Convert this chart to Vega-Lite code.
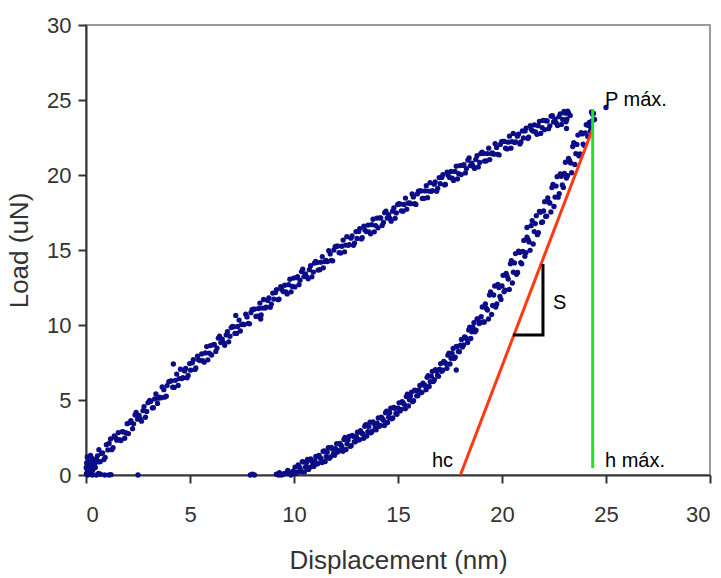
{
  "$schema": "https://vega.github.io/schema/vega-lite/v6.json",
  "width": 624,
  "height": 450,
  "autosize": {"type": "none"},
  "padding": {"left": 86, "top": 25, "right": 11, "bottom": 103},
  "background": "white",
  "config": {
    "view": {"stroke": "#9a9a9a", "strokeWidth": 2},
    "axis": {
      "grid": false,
      "domainColor": "#333333",
      "domainWidth": 2,
      "tickColor": "#333333",
      "tickWidth": 2,
      "tickSize": 8,
      "labelFont": "Liberation Sans",
      "labelFontSize": 22,
      "labelColor": "#333333",
      "titleFont": "Liberation Sans",
      "titleFontSize": 26,
      "titleFontWeight": "normal",
      "titleColor": "#333333"
    }
  },
  "layer": [
    {
      "data": {"values": [
        {"h":0.02,"P":0.1},{"h":0.05,"P":0.4},{"h":0.08,"P":0.0},{"h":0.1,"P":0.6},{"h":0.12,"P":0.2},{"h":0.15,"P":0.9},{"h":0.18,"P":0.3},{"h":0.2,"P":0.5},{"h":0.25,"P":0.8},{"h":0.28,"P":0.2},{"h":0.3,"P":1.1},{"h":0.35,"P":0.6},{"h":0.4,"P":1.0},{"h":0.45,"P":0.5},{"h":0.03,"P":0.8},{"h":0.22,"P":1.3},
        {"h":0.06,"P":1.2},{"h":0.14,"P":0.05},{"h":0.33,"P":0.35},{"h":0.42,"P":0.75},{"h":0.5,"P":1.05},{"h":0.01,"P":0.5},
        {"h":0.3,"P":0.0},{"h":0.5,"P":0.0},{"h":0.7,"P":0.05},{"h":0.9,"P":0.0},{"h":1.1,"P":0.0},{"h":1.2,"P":0.02},{"h":2.5,"P":0.0},{"h":0.6,"P":0.1},
        {"h":0.55,"P":1.28},{"h":0.68,"P":0.89},{"h":0.8,"P":1.48},{"h":0.92,"P":1.17},{"h":0.62,"P":1.69},
        {"h":1.05,"P":1.67},{"h":1.18,"P":2.40},{"h":1.3,"P":1.82},{"h":1.42,"P":2.49},
        {"h":1.55,"P":2.82},{"h":1.68,"P":2.30},{"h":1.8,"P":2.87},{"h":1.93,"P":2.80},
        {"h":2.04,"P":2.76},{"h":2.16,"P":3.62},{"h":2.29,"P":3.41},{"h":2.41,"P":4.17},
        {"h":2.55,"P":3.97},{"h":2.67,"P":3.59},{"h":2.79,"P":4.56},{"h":2.92,"P":4.24},
        {"h":3.06,"P":4.98},{"h":3.19,"P":4.47},{"h":3.3,"P":5.07},{"h":3.44,"P":4.77},
        {"h":3.53,"P":5.19},{"h":3.66,"P":5.87},{"h":3.78,"P":5.19},{"h":3.9,"P":5.96},
        {"h":4.05,"P":6.26},{"h":4.17,"P":5.85},{"h":4.3,"P":6.31},{"h":4.43,"P":5.97},{"h":4.2,"P":7.4},
        {"h":4.54,"P":7.05},{"h":4.66,"P":6.49},{"h":4.79,"P":7.10},{"h":4.91,"P":6.64},
        {"h":5.03,"P":6.99},{"h":5.16,"P":7.69},{"h":5.28,"P":7.14},{"h":5.41,"P":7.69},
        {"h":5.56,"P":8.07},{"h":5.68,"P":7.52},{"h":5.8,"P":8.56},{"h":5.93,"P":8.12},
        {"h":6.04,"P":8.00},{"h":6.17,"P":8.70},{"h":6.3,"P":8.46},{"h":6.42,"P":9.25},
        {"h":6.55,"P":9.06},{"h":6.67,"P":8.65},{"h":6.8,"P":9.56},{"h":6.92,"P":9.25},
        {"h":7.04,"P":9.90},{"h":7.16,"P":9.44},{"h":7.29,"P":9.90},{"h":7.42,"P":9.60},{"h":7.2,"P":10.64},
        {"h":7.55,"P":10.06},{"h":7.68,"P":10.72},{"h":7.8,"P":10.11},{"h":7.93,"P":10.82},
        {"h":8.05,"P":11.05},{"h":8.17,"P":10.57},{"h":8.3,"P":11.10},{"h":8.42,"P":10.67},
        {"h":8.54,"P":11.70},{"h":8.66,"P":11.19},{"h":8.79,"P":11.80},{"h":8.91,"P":11.39},{"h":8.4,"P":10.4},
        {"h":9.03,"P":11.73},{"h":9.16,"P":12.36},{"h":9.28,"P":11.73},{"h":9.41,"P":12.36},
        {"h":9.55,"P":12.65},{"h":9.67,"P":12.07},{"h":9.8,"P":13.05},{"h":9.92,"P":12.57},
        {"h":10.04,"P":12.54},{"h":10.17,"P":13.22},{"h":10.29,"P":12.99},{"h":10.42,"P":13.72},
        {"h":10.55,"P":13.40},{"h":10.68,"P":13.08},{"h":10.8,"P":13.95},{"h":10.93,"P":13.53},
        {"h":11.04,"P":14.24},{"h":11.16,"P":13.66},{"h":11.29,"P":14.19},{"h":11.41,"P":13.81},
        {"h":11.54,"P":14.30},{"h":11.67,"P":14.95},{"h":11.79,"P":14.30},{"h":11.92,"P":15.00},
        {"h":12.05,"P":15.25},{"h":12.17,"P":14.82},{"h":12.3,"P":15.25},{"h":12.43,"P":14.88},
        {"h":12.54,"P":15.89},{"h":12.66,"P":15.36},{"h":12.79,"P":15.94},{"h":12.91,"P":15.46},
        {"h":13.03,"P":15.77},{"h":13.16,"P":16.43},{"h":13.28,"P":15.82},{"h":13.41,"P":16.33},
        {"h":13.56,"P":16.66},{"h":13.68,"P":16.08},{"h":13.8,"P":17.05},{"h":13.93,"P":16.63},
        {"h":14.04,"P":16.48},{"h":14.17,"P":17.14},{"h":14.3,"P":16.84},{"h":14.42,"P":17.59},
        {"h":14.55,"P":17.35},{"h":14.67,"P":16.92},{"h":14.8,"P":17.80},{"h":14.92,"P":17.47},
        {"h":15.04,"P":18.09},{"h":15.16,"P":17.61},{"h":15.29,"P":18.04},{"h":15.42,"P":17.72},
        {"h":15.55,"P":18.14},{"h":15.68,"P":18.74},{"h":15.8,"P":18.09},{"h":15.93,"P":18.74},
        {"h":16.05,"P":18.94},{"h":16.17,"P":18.44},{"h":16.3,"P":18.94},{"h":16.42,"P":18.49},
        {"h":16.54,"P":19.49},{"h":16.66,"P":18.96},{"h":16.79,"P":19.54},{"h":16.91,"P":19.11},
        {"h":17.03,"P":19.42},{"h":17.16,"P":20.03},{"h":17.28,"P":19.37},{"h":17.41,"P":19.98},
        {"h":17.55,"P":20.24},{"h":17.67,"P":19.64},{"h":17.8,"P":20.59},{"h":17.92,"P":20.09},
        {"h":18.04,"P":20.03},{"h":18.17,"P":20.69},{"h":18.29,"P":20.43},{"h":18.42,"P":21.14},
        {"h":18.55,"P":20.79},{"h":18.68,"P":20.44},{"h":18.8,"P":21.29},{"h":18.93,"P":20.84},
        {"h":19.04,"P":21.53},{"h":19.16,"P":20.93},{"h":19.29,"P":21.43},{"h":19.41,"P":21.03},
        {"h":19.54,"P":21.48},{"h":19.67,"P":22.09},{"h":19.79,"P":21.38},{"h":19.92,"P":22.04},
        {"h":20.05,"P":22.24},{"h":20.17,"P":21.79},{"h":20.3,"P":22.19},{"h":20.43,"P":21.79},
        {"h":20.54,"P":22.77},{"h":20.66,"P":22.20},{"h":20.79,"P":22.72},{"h":20.91,"P":22.20},
        {"h":21.03,"P":22.47},{"h":21.16,"P":23.13},{"h":21.28,"P":22.52},{"h":21.41,"P":23.03},
        {"h":21.56,"P":23.34},{"h":21.68,"P":22.71},{"h":21.8,"P":23.58},{"h":21.93,"P":23.16},
        {"h":22.04,"P":23.02},{"h":22.17,"P":23.60},{"h":22.3,"P":23.28},{"h":22.42,"P":23.95},
        {"h":22.55,"P":23.73},{"h":22.67,"P":23.30},{"h":22.8,"P":24.08},{"h":22.92,"P":23.70},
        {"h":23.04,"P":24.12},{"h":23.12,"P":23.72},{"h":23.2,"P":24.12},{"h":23.28,"P":23.97},{"h":23.1,"P":23.1},
        {"h":0.61,"P":0.88},{"h":0.74,"P":1.43},{"h":0.86,"P":1.03},{"h":0.98,"P":2.02},
        {"h":1.11,"P":2.10},{"h":1.24,"P":1.69},{"h":1.36,"P":2.60},{"h":1.48,"P":2.32},
        {"h":1.61,"P":2.35},{"h":1.74,"P":2.89},{"h":1.86,"P":2.45},{"h":1.98,"P":3.42},
        {"h":2.11,"P":3.50},{"h":2.24,"P":3.09},{"h":2.36,"P":4.00},{"h":2.48,"P":3.72},
        {"h":2.61,"P":3.75},{"h":2.74,"P":4.29},{"h":2.86,"P":3.85},{"h":2.98,"P":4.82},
        {"h":3.11,"P":4.90},{"h":3.24,"P":4.49},{"h":3.36,"P":5.40},{"h":3.48,"P":5.12},
        {"h":3.61,"P":5.15},{"h":3.74,"P":5.69},{"h":3.86,"P":5.25},{"h":3.98,"P":6.22},
        {"h":4.11,"P":6.28},{"h":4.24,"P":5.84},{"h":4.36,"P":6.73},{"h":4.48,"P":6.43},
        {"h":4.61,"P":6.43},{"h":4.74,"P":6.94},{"h":4.86,"P":6.48},{"h":4.98,"P":7.43},
        {"h":5.11,"P":7.48},{"h":5.24,"P":7.04},{"h":5.36,"P":7.93},{"h":5.48,"P":7.63},
        {"h":5.61,"P":7.63},{"h":5.74,"P":8.14},{"h":5.86,"P":7.68},{"h":5.98,"P":8.63},
        {"h":6.11,"P":8.68},{"h":6.24,"P":8.24},{"h":6.36,"P":9.13},{"h":6.48,"P":8.83},
        {"h":6.61,"P":8.83},{"h":6.74,"P":9.34},{"h":6.86,"P":8.88},{"h":6.98,"P":9.83},
        {"h":7.11,"P":9.88},{"h":7.24,"P":9.44},{"h":7.36,"P":10.33},{"h":7.48,"P":10.03},
        {"h":7.61,"P":10.03},{"h":7.74,"P":10.54},{"h":7.86,"P":10.08},{"h":7.98,"P":11.03},
        {"h":8.11,"P":11.06},{"h":8.24,"P":10.59},{"h":8.36,"P":11.46},{"h":8.48,"P":11.13},
        {"h":8.61,"P":11.13},{"h":8.74,"P":11.64},{"h":8.86,"P":11.18},{"h":8.98,"P":12.13},
        {"h":9.11,"P":12.16},{"h":9.24,"P":11.69},{"h":9.36,"P":12.56},{"h":9.48,"P":12.23},
        {"h":9.61,"P":12.21},{"h":9.74,"P":12.69},{"h":9.86,"P":12.21},{"h":9.98,"P":13.13},
        {"h":10.11,"P":13.16},{"h":10.24,"P":12.69},{"h":10.36,"P":13.56},{"h":10.48,"P":13.23},
        {"h":10.61,"P":13.21},{"h":10.74,"P":13.69},{"h":10.86,"P":13.21},{"h":10.98,"P":14.13},
        {"h":11.11,"P":14.16},{"h":11.24,"P":13.69},{"h":11.36,"P":14.56},{"h":11.48,"P":14.23},
        {"h":11.61,"P":14.23},{"h":11.74,"P":14.74},{"h":11.86,"P":14.28},{"h":11.98,"P":15.23},
        {"h":12.11,"P":15.26},{"h":12.24,"P":14.79},{"h":12.36,"P":15.66},{"h":12.48,"P":15.33},
        {"h":12.61,"P":15.31},{"h":12.74,"P":15.79},{"h":12.86,"P":15.31},{"h":12.98,"P":16.23},
        {"h":13.11,"P":16.24},{"h":13.24,"P":15.74},{"h":13.36,"P":16.59},{"h":13.48,"P":16.23},
        {"h":13.61,"P":16.21},{"h":13.74,"P":16.69},{"h":13.86,"P":16.21},{"h":13.98,"P":17.13},
        {"h":14.11,"P":17.14},{"h":14.24,"P":16.64},{"h":14.36,"P":17.49},{"h":14.48,"P":17.13},
        {"h":14.61,"P":17.11},{"h":14.74,"P":17.59},{"h":14.86,"P":17.11},{"h":14.98,"P":18.03},
        {"h":15.11,"P":18.06},{"h":15.24,"P":17.59},{"h":15.36,"P":18.46},{"h":15.48,"P":18.13},
        {"h":15.61,"P":18.09},{"h":15.74,"P":18.54},{"h":15.86,"P":18.04},{"h":15.98,"P":18.93},
        {"h":16.11,"P":18.94},{"h":16.24,"P":18.44},{"h":16.36,"P":19.29},{"h":16.48,"P":18.93},
        {"h":16.61,"P":18.91},{"h":16.74,"P":19.39},{"h":16.86,"P":18.91},{"h":16.98,"P":19.83},
        {"h":17.11,"P":19.84},{"h":17.24,"P":19.34},{"h":17.36,"P":20.19},{"h":17.48,"P":19.83},
        {"h":17.61,"P":19.79},{"h":17.74,"P":20.24},{"h":17.86,"P":19.74},{"h":17.98,"P":20.63},
        {"h":18.11,"P":20.64},{"h":18.24,"P":20.14},{"h":18.36,"P":20.99},{"h":18.48,"P":20.63},
        {"h":18.61,"P":20.59},{"h":18.74,"P":21.04},{"h":18.86,"P":20.54},{"h":18.98,"P":21.43},
        {"h":19.11,"P":21.44},{"h":19.24,"P":20.94},{"h":19.36,"P":21.79},{"h":19.48,"P":21.43},
        {"h":19.61,"P":21.39},{"h":19.74,"P":21.84},{"h":19.86,"P":21.34},{"h":19.98,"P":22.23},
        {"h":20.11,"P":22.24},{"h":20.24,"P":21.74},{"h":20.36,"P":22.59},{"h":20.48,"P":22.23},
        {"h":20.61,"P":22.17},{"h":20.74,"P":22.59},{"h":20.86,"P":22.07},{"h":20.98,"P":22.94},
        {"h":21.11,"P":22.94},{"h":21.24,"P":22.44},{"h":21.36,"P":23.29},{"h":21.48,"P":22.93},
        {"h":21.61,"P":22.87},{"h":21.74,"P":23.29},{"h":21.86,"P":22.77},{"h":21.98,"P":23.64},
        {"h":22.11,"P":23.62},{"h":22.24,"P":23.09},{"h":22.36,"P":23.92},{"h":22.48,"P":23.54},
        {"h":22.61,"P":23.47},{"h":22.74,"P":23.89},{"h":22.86,"P":23.37},{"h":22.98,"P":24.24},
        {"h":23.16,"P":24.25},{"h":23.08,"P":23.55},
        {"h":7.9,"P":0.0},{"h":8.0,"P":0.05},{"h":8.1,"P":0.0},
        {"h":9.15,"P":0.05},{"h":9.3,"P":0.15},{"h":9.4,"P":0.0},{"h":9.55,"P":0.1},{"h":9.7,"P":0.3},{"h":9.85,"P":0.0},{"h":9.95,"P":0.25},
        {"h":9.25,"P":0.0},{"h":9.5,"P":0.05},{"h":9.65,"P":0.1},{"h":9.8,"P":0.15},{"h":10.0,"P":0.1},
        {"h":10.05,"P":0.53},{"h":10.15,"P":0.19},{"h":10.25,"P":0.55},{"h":10.35,"P":0.21},{"h":10.45,"P":0.87},
        {"h":10.55,"P":0.53},{"h":10.65,"P":1.04},{"h":10.75,"P":0.50},{"h":10.85,"P":0.91},{"h":10.95,"P":0.57},
        {"h":11.05,"P":1.24},{"h":11.15,"P":0.77},{"h":11.25,"P":1.15},{"h":11.35,"P":0.83},{"h":11.45,"P":1.61},
        {"h":11.55,"P":1.24},{"h":11.65,"P":1.82},{"h":11.75,"P":1.20},{"h":11.85,"P":1.73},{"h":11.95,"P":1.31},
        {"h":12.05,"P":2.09},{"h":12.15,"P":1.62},{"h":12.25,"P":2.00},{"h":12.35,"P":1.58},{"h":12.45,"P":2.51},
        {"h":12.55,"P":2.09},{"h":12.65,"P":2.57},{"h":12.75,"P":1.95},{"h":12.85,"P":2.58},{"h":12.95,"P":2.21},
        {"h":13.05,"P":2.85},{"h":13.15,"P":2.35},{"h":13.25,"P":2.80},{"h":13.35,"P":2.45},{"h":13.45,"P":3.35},
        {"h":13.55,"P":2.89},{"h":13.65,"P":3.52},{"h":13.75,"P":2.90},{"h":13.85,"P":3.43},{"h":13.95,"P":3.01},
        {"h":14.05,"P":3.80},{"h":14.15,"P":3.30},{"h":14.25,"P":3.75},{"h":14.35,"P":3.30},{"h":14.45,"P":4.25},
        {"h":14.55,"P":3.85},{"h":14.65,"P":4.45},{"h":14.75,"P":3.80},{"h":14.85,"P":4.45},{"h":14.95,"P":4.05},
        {"h":15.05,"P":4.81},{"h":15.15,"P":4.38},{"h":15.25,"P":4.80},{"h":15.35,"P":4.42},{"h":15.45,"P":5.39},
        {"h":15.55,"P":5.01},{"h":15.65,"P":5.53},{"h":15.75,"P":4.95},{"h":15.85,"P":5.62},{"h":15.95,"P":5.29},
        {"h":16.05,"P":5.97},{"h":16.15,"P":5.51},{"h":16.25,"P":6.00},{"h":16.35,"P":5.69},{"h":16.45,"P":6.63},
        {"h":16.55,"P":6.22},{"h":16.65,"P":6.91},{"h":16.75,"P":6.35},{"h":16.85,"P":6.94},{"h":16.95,"P":6.58},
        {"h":17.05,"P":7.43},{"h":17.15,"P":6.99},{"h":17.25,"P":7.50},{"h":17.35,"P":7.11},{"h":17.45,"P":8.12},
        {"h":17.55,"P":7.78},{"h":17.65,"P":8.44},{"h":17.75,"P":7.85},{"h":17.85,"P":8.56},{"h":17.95,"P":8.22},{"h":17.8,"P":7.0},
        {"h":18.05,"P":9.04},{"h":18.15,"P":8.67},{"h":18.25,"P":9.15},{"h":18.35,"P":8.83},{"h":18.45,"P":9.86},
        {"h":18.55,"P":9.55},{"h":18.65,"P":10.15},{"h":18.75,"P":9.65},{"h":18.85,"P":10.40},{"h":18.95,"P":10.15},
        {"h":19.05,"P":11.2},{"h":19.15,"P":10.2},{"h":19.25,"P":11.1},{"h":19.35,"P":10.4},{"h":19.45,"P":12.2},
        {"h":19.55,"P":11.3},{"h":19.65,"P":12.6},{"h":19.75,"P":11.4},{"h":19.85,"P":12.5},{"h":19.95,"P":11.7},
        {"h":20.05,"P":13.31},{"h":20.15,"P":12.33},{"h":20.25,"P":13.25},{"h":20.35,"P":12.37},{"h":20.45,"P":14.29},
        {"h":20.55,"P":13.52},{"h":20.65,"P":14.76},{"h":20.75,"P":13.50},{"h":20.85,"P":14.84},{"h":20.95,"P":14.08},
        {"h":21.05,"P":15.64},{"h":21.15,"P":14.82},{"h":21.25,"P":15.70},{"h":21.35,"P":14.98},{"h":21.45,"P":16.96},{"h":21.2,"P":16.5},
        {"h":21.55,"P":16.23},{"h":21.65,"P":17.29},{"h":21.75,"P":16.15},{"h":21.85,"P":17.51},{"h":21.95,"P":16.87},
        {"h":22.05,"P":18.22},{"h":22.15,"P":17.26},{"h":22.25,"P":18.20},{"h":22.35,"P":17.54},{"h":22.45,"P":19.38},
        {"h":22.55,"P":18.53},{"h":22.65,"P":19.89},{"h":22.75,"P":18.75},{"h":22.85,"P":19.91},{"h":22.95,"P":19.17},
        {"h":23.05,"P":20.85},{"h":23.15,"P":19.95},{"h":23.25,"P":20.95},{"h":23.35,"P":20.15},{"h":23.45,"P":22.15},
        {"h":23.55,"P":21.42},{"h":23.65,"P":22.66},{"h":23.75,"P":21.40},{"h":23.85,"P":22.74},{"h":23.95,"P":21.98},
        {"h":24.05,"P":23.35},{"h":24.12,"P":22.56},{"h":24.2,"P":23.5},{"h":24.28,"P":23.14},{"h":24.35,"P":24.05},
        {"h":24.4,"P":24.1},{"h":24.3,"P":24.2},{"h":25.0,"P":24.5},{"h":24.45,"P":23.7},
        {"h":10.1,"P":0.11},{"h":10.2,"P":0.67},{"h":10.3,"P":0.43},{"h":10.4,"P":0.89},{"h":10.5,"P":0.2},
        {"h":10.6,"P":0.81},{"h":10.7,"P":0.37},{"h":10.8,"P":1.08},{"h":10.9,"P":0.64},{"h":11.0,"P":0.95},
        {"h":11.1,"P":0.73},{"h":11.2,"P":1.31},{"h":11.3,"P":1.09},{"h":11.4,"P":1.57},{"h":11.5,"P":0.9},
        {"h":11.6,"P":1.53},{"h":11.7,"P":1.11},{"h":11.8,"P":1.84},{"h":11.9,"P":1.42},{"h":12.0,"P":1.75},
        {"h":12.1,"P":1.53},{"h":12.2,"P":2.11},{"h":12.3,"P":1.89},{"h":12.4,"P":2.37},{"h":12.5,"P":1.7},
        {"h":12.6,"P":2.33},{"h":12.7,"P":1.91},{"h":12.8,"P":2.64},{"h":12.9,"P":2.22},{"h":13.0,"P":2.55},
        {"h":13.1,"P":2.35},{"h":13.2,"P":2.95},{"h":13.3,"P":2.75},{"h":13.4,"P":3.25},{"h":13.5,"P":2.6},
        {"h":13.6,"P":3.23},{"h":13.7,"P":2.81},{"h":13.8,"P":3.54},{"h":13.9,"P":3.12},{"h":14.0,"P":3.45},
        {"h":14.1,"P":3.25},{"h":14.2,"P":3.85},{"h":14.3,"P":3.65},{"h":14.4,"P":4.15},{"h":14.5,"P":3.5},
        {"h":14.6,"P":4.15},{"h":14.7,"P":3.75},{"h":14.8,"P":4.5},{"h":14.9,"P":4.1},{"h":15.0,"P":4.45},
        {"h":15.1,"P":4.27},{"h":15.2,"P":4.89},{"h":15.3,"P":4.71},{"h":15.4,"P":5.23},{"h":15.5,"P":4.6},
        {"h":15.6,"P":5.27},{"h":15.7,"P":4.89},{"h":15.8,"P":5.66},{"h":15.9,"P":5.28},{"h":16.0,"P":5.65},
        {"h":16.1,"P":5.49},{"h":16.2,"P":6.13},{"h":16.3,"P":5.97},{"h":16.4,"P":6.51},{"h":16.5,"P":5.9},
        {"h":16.6,"P":6.59},{"h":16.7,"P":6.23},{"h":16.8,"P":7.02},{"h":16.9,"P":6.66},{"h":17.0,"P":7.05},
        {"h":17.1,"P":6.91},{"h":17.2,"P":7.57},{"h":17.3,"P":7.43},{"h":17.4,"P":7.99},{"h":17.5,"P":7.4},
        {"h":17.6,"P":8.11},{"h":17.7,"P":7.77},{"h":17.8,"P":8.58},{"h":17.9,"P":8.24},{"h":18.0,"P":8.65},
        {"h":18.1,"P":8.53},{"h":18.2,"P":9.21},{"h":18.3,"P":9.09},{"h":18.4,"P":9.67},{"h":18.5,"P":9.1},
        {"h":18.6,"P":9.85},{"h":18.7,"P":9.55},{"h":18.8,"P":10.4},{"h":18.9,"P":10.1},{"h":19.0,"P":10.55},
        {"h":19.1,"P":10.2},{"h":19.2,"P":11.4},{"h":19.3,"P":11.0},{"h":19.4,"P":12.0},{"h":19.5,"P":10.7},
        {"h":19.6,"P":12.0},{"h":19.7,"P":11.2},{"h":19.8,"P":12.7},{"h":19.9,"P":11.9},{"h":20.0,"P":12.6},
        {"h":20.1,"P":12.22},{"h":20.2,"P":13.44},{"h":20.3,"P":13.06},{"h":20.4,"P":14.08},{"h":20.5,"P":12.8},
        {"h":20.6,"P":14.14},{"h":20.7,"P":13.38},{"h":20.8,"P":14.92},{"h":20.9,"P":14.16},{"h":21.0,"P":14.9},
        {"h":21.1,"P":14.58},{"h":21.2,"P":15.86},{"h":21.3,"P":15.54},{"h":21.4,"P":16.62},{"h":21.5,"P":15.4},
        {"h":21.6,"P":16.76},{"h":21.7,"P":16.02},{"h":21.8,"P":17.58},{"h":21.9,"P":16.84},{"h":22.0,"P":17.6},
        {"h":22.1,"P":17.24},{"h":22.2,"P":18.48},{"h":22.3,"P":18.12},{"h":22.4,"P":19.16},{"h":22.5,"P":17.9},
        {"h":22.6,"P":19.26},{"h":22.7,"P":18.52},{"h":22.8,"P":20.08},{"h":22.9,"P":19.34},{"h":23.0,"P":20.1},
        {"h":23.1,"P":19.8},{"h":23.2,"P":21.1},{"h":23.3,"P":20.8},{"h":23.4,"P":21.9},{"h":23.5,"P":20.7},
        {"h":23.6,"P":22.04},{"h":23.7,"P":21.28},{"h":23.8,"P":22.82},{"h":23.9,"P":22.06},{"h":24.0,"P":22.8},
        {"h":24.16,"P":23.3},{"h":24.24,"P":22.9},{"h":24.33,"P":23.6}
      ]},
      "mark": {"type": "circle", "size": 28, "opacity": 1, "color": "#0c0c86"},
      "encoding": {
        "x": {"field": "h", "type": "quantitative", "scale": {"domain": [0, 30], "nice": false}, "axis": {"values": [0,5,10,15,20,25,30], "title": "Displacement (nm)", "labelPadding": 21, "titlePadding": 22}},
        "y": {"field": "P", "type": "quantitative", "scale": {"domain": [0, 30], "nice": false}, "axis": {"values": [0,5,10,15,20,25,30], "title": "Load (uN)", "labelPadding": 7, "titlePadding": 14}}
      }
    },
    {
      "data": {"values": [{"h": 18.0, "P": 0}, {"h": 24.36, "P": 23.07}]},
      "mark": {"type": "line", "color": "#ff3a12", "strokeWidth": 3},
      "encoding": {"x": {"field": "h", "type": "quantitative"}, "y": {"field": "P", "type": "quantitative"}}
    },
    {
      "data": {"values": [{"h": 24.36, "P": 0.47}, {"h": 24.36, "P": 24.4}]},
      "mark": {"type": "line", "color": "#22e222", "strokeWidth": 3},
      "encoding": {"x": {"field": "h", "type": "quantitative"}, "y": {"field": "P", "type": "quantitative"}}
    },
    {
      "data": {"values": [{"h": 20.53, "P": 9.33, "o": 1}, {"h": 21.97, "P": 9.33, "o": 2}, {"h": 21.97, "P": 14.07, "o": 3}]},
      "mark": {"type": "line", "color": "#000000", "strokeWidth": 3},
      "encoding": {"x": {"field": "h", "type": "quantitative"}, "y": {"field": "P", "type": "quantitative"}, "order": {"field": "o"}}
    },
    {
      "data": {"values": [
        {"h": 24.95, "P": 25.0, "label": "P máx."},
        {"h": 24.95, "P": 0.93, "label": "h máx."},
        {"h": 22.45, "P": 11.5, "label": "S"},
        {"h": 16.63, "P": 0.93, "label": "hc"}
      ]},
      "mark": {"type": "text", "align": "left", "baseline": "middle", "font": "Liberation Sans", "fontSize": 20, "color": "#000000"},
      "encoding": {"x": {"field": "h", "type": "quantitative"}, "y": {"field": "P", "type": "quantitative"}, "text": {"field": "label"}}
    }
  ]
}
